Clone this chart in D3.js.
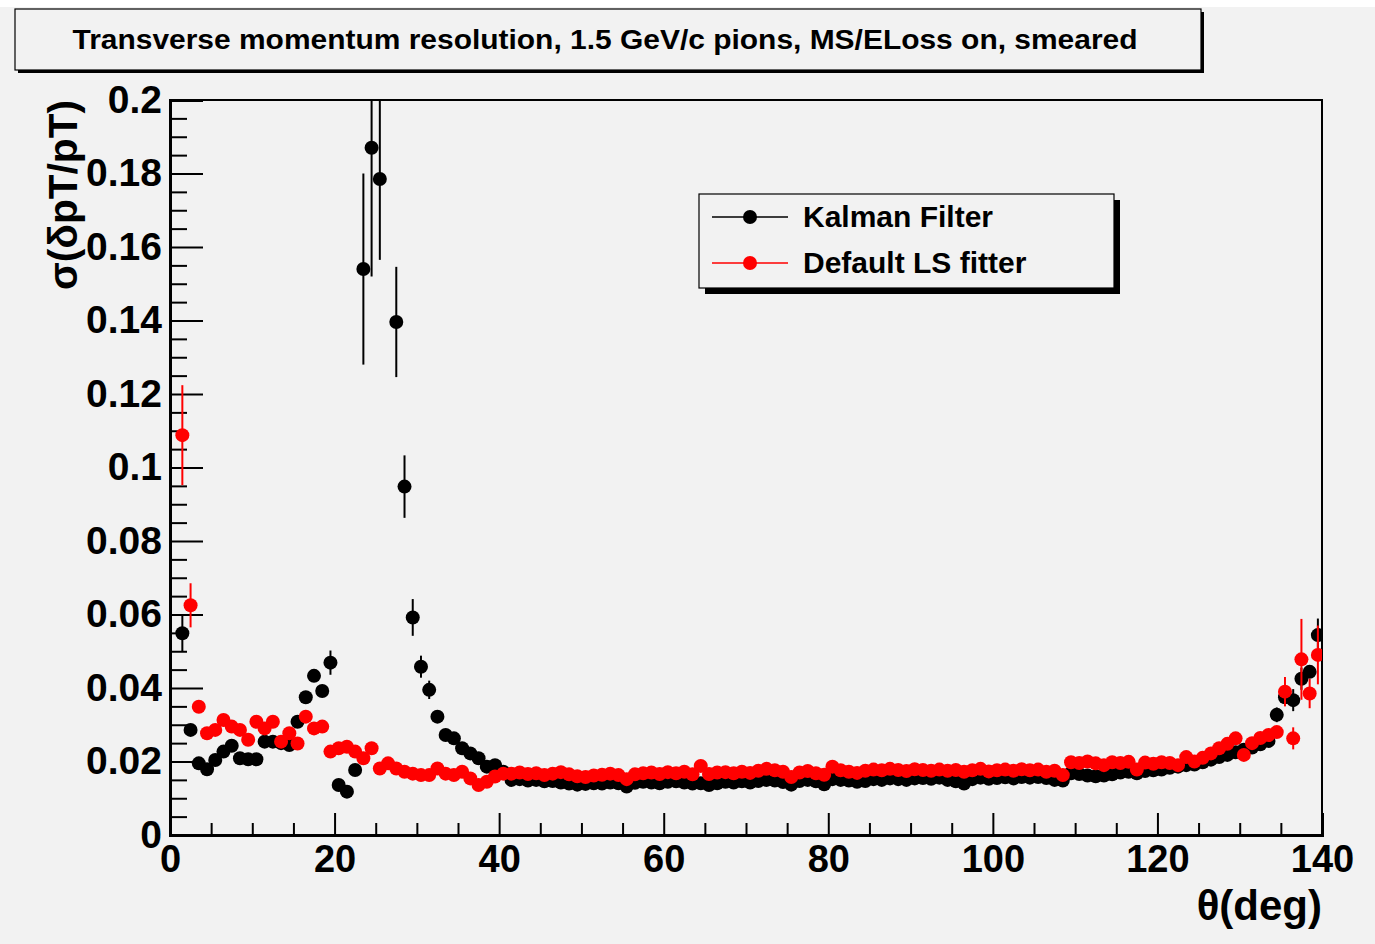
<!DOCTYPE html>
<html><head><meta charset="utf-8">
<script src="https://cdn.jsdelivr.net/npm/d3@7"></script>
<style>html,body{margin:0;padding:0;background:#fff;}svg{display:block;}</style>
</head><body>
<script>
// ---------- data ----------
const thetaCenters = d3.range(1.5, 140, 1); // bin centres 1.5 ... 139.5 (deg)
const kalmanValues = [
0.0549,0.0286,0.0195,0.0179,0.0204,0.0227,0.0243,0.0209,0.0206,0.0206,
0.0254,0.0254,0.0250,0.0245,0.0308,0.0375,0.0433,0.0392,0.0469,0.0136,
0.0118,0.0177,0.1540,0.1870,0.1785,null,0.1396,0.0948,0.0592,0.0458,
0.0395,0.0322,0.0272,0.0263,0.0236,0.0222,0.0209,0.0186,0.0190,0.0172,
0.0150,0.0152,0.0148,0.0150,0.0146,0.0147,0.0143,0.0140,0.0137,0.0139,
0.0141,0.0140,0.0143,0.0141,0.0132,0.0142,0.0145,0.0143,0.0141,0.0145,
0.0146,0.0143,0.0140,0.0141,0.0136,0.0141,0.0145,0.0143,0.0146,0.0143,
0.0147,0.0150,0.0148,0.0144,0.0137,0.0147,0.0150,0.0146,0.0138,0.0152,
0.0150,0.0148,0.0145,0.0147,0.0152,0.0150,0.0154,0.0152,0.0150,0.0154,
0.0155,0.0153,0.0156,0.0150,0.0146,0.0140,0.0152,0.0156,0.0153,0.0155,
0.0157,0.0154,0.0158,0.0156,0.0158,0.0155,0.0150,0.0148,0.0168,0.0166,
0.0162,0.0160,0.0162,0.0165,0.0170,0.0172,0.0168,0.0174,0.0176,0.0178,
0.0183,0.0186,0.0190,0.0192,0.0198,0.0205,0.0212,0.0218,0.0225,0.0232,
0.0238,0.0247,0.0256,0.0327,0.0375,0.0367,0.0425,0.0444,0.0544];
const lsValues = [
0.1088,0.0625,0.0349,0.0277,0.0286,0.0313,0.0295,0.0286,0.0259,0.0308,
0.0290,0.0308,0.0254,0.0277,0.0249,0.0322,0.0290,0.0295,0.0227,0.0236,
0.0240,0.0227,0.0209,0.0236,0.0181,0.0195,0.0181,0.0172,0.0167,0.0163,
0.0163,0.0181,0.0167,0.0163,0.0172,0.0154,0.0136,0.0145,0.0159,0.0167,
0.0167,0.0170,0.0166,0.0168,0.0163,0.0167,0.0171,0.0165,0.0160,0.0158,
0.0162,0.0164,0.0167,0.0163,0.0152,0.0165,0.0168,0.0170,0.0166,0.0171,
0.0168,0.0172,0.0165,0.0188,0.0166,0.0170,0.0171,0.0168,0.0172,0.0169,
0.0175,0.0180,0.0176,0.0172,0.0158,0.0170,0.0174,0.0168,0.0164,0.0186,
0.0176,0.0172,0.0169,0.0175,0.0178,0.0176,0.0180,0.0177,0.0174,0.0179,
0.0177,0.0175,0.0178,0.0175,0.0177,0.0172,0.0176,0.0180,0.0173,0.0176,
0.0178,0.0175,0.0179,0.0176,0.0178,0.0172,0.0175,0.0163,0.0198,0.0196,
0.0200,0.0195,0.0190,0.0198,0.0196,0.0199,0.0178,0.0197,0.0194,0.0198,
0.0196,0.0190,0.0212,0.0200,0.0210,0.0222,0.0236,0.0248,0.0263,0.0218,
0.0250,0.0264,0.0272,0.0280,0.0390,0.0263,0.0478,0.0385,0.0490];
// visible error bars: [theta, half-length]
const kalmanErrors = [[1.5,0.005],[19.5,0.0033],[23.5,0.026],[24.5,0.035],[25.5,0.022],[27.5,0.015],[28.5,0.0085],[29.5,0.005],[30.5,0.003],[31.5,0.0025],[134.5,0.002],[136.5,0.003],[137.5,0.003],[139.5,0.0045]];
const lsErrors = [[1.5,0.0136],[2.5,0.006],[135.5,0.004],[136.5,0.003],[137.5,0.011],[138.5,0.004],[139.5,0.008]];
const yMajorTicks = [0,0.02,0.04,0.06,0.08,0.1,0.12,0.14,0.16,0.18,0.2];
const yTickLabels = ["0","0.02","0.04","0.06","0.08","0.1","0.12","0.14","0.16","0.18","0.2"];
const xMajorTicks = [0,20,40,60,80,100,120,140];
const xTickLabels = ["0","20","40","60","80","100","120","140"];
const seriesNames = ["Kalman Filter","Default LS fitter"];
const titleText = "Transverse momentum resolution, 1.5 GeV/c pions, MS/ELoss on, smeared";

// ---------- layout ----------
const W = 1375, H = 944;
const L = 170, R = 1322, T = 100, B = 835;
const FONT = "'Liberation Sans', Arial, Helvetica, sans-serif";
const BG = "#f2f2f2";
const MR = 7;

const svg = d3.select("body").append("svg").attr("width", W).attr("height", H);
svg.append("rect").attr("x",0).attr("y",7).attr("width",W).attr("height",H-7).attr("fill",BG);

const x = d3.scaleLinear().domain([0,140]).range([L,R]);
const y = d3.scaleLinear().domain([0,0.2]).range([B,T]);

// title box with shadow
const tb = {x:15, y:9, w:1186, h:61};
svg.append("rect").attr("x",tb.x+3).attr("y",tb.y+3).attr("width",tb.w).attr("height",tb.h).attr("fill","#000");
svg.append("rect").attr("x",tb.x).attr("y",tb.y).attr("width",tb.w).attr("height",tb.h).attr("fill",BG).attr("stroke","#000").attr("stroke-width",1.2);
svg.append("text").attr("x",605).attr("y",49).attr("text-anchor","middle")
  .attr("font-family",FONT).attr("font-weight","bold").attr("font-size",27)
  .attr("textLength",1065).attr("lengthAdjust","spacingAndGlyphs")
  .text(titleText);

// frame
svg.append("rect").attr("x",L).attr("y",T).attr("width",R-L).attr("height",B-T)
  .attr("fill","none").attr("stroke","#000").attr("stroke-width",2);

// y axis
const yMinor = d3.range(0, 0.2001, 0.005).filter(v => Math.abs(v/0.02 - Math.round(v/0.02)) > 1e-6);
const yAxis = svg.append("g").attr("transform",`translate(${L},0)`)
  .call(d3.axisLeft(y).tickValues(yMajorTicks).tickSize(-33).tickPadding(8)
    .tickFormat((d,i)=>yTickLabels[i]));
yAxis.select(".domain").attr("stroke-width",3);
yAxis.selectAll(".tick line").attr("stroke-width",2);
yAxis.selectAll("text").attr("font-family",FONT).attr("font-weight","bold").attr("font-size",39).attr("fill","#000");
const yAxisMinor = svg.append("g").attr("transform",`translate(${L},0)`)
  .call(d3.axisLeft(y).tickValues(yMinor).tickSize(-17).tickFormat(""));
yAxisMinor.select(".domain").remove();
yAxisMinor.selectAll(".tick line").attr("stroke-width",2);

// x axis
const xMinor = d3.range(5,140,5).filter(v => v % 20 !== 0);
const xAxis = svg.append("g").attr("transform",`translate(0,${B})`)
  .call(d3.axisBottom(x).tickValues(xMajorTicks).tickSize(-22).tickPadding(10)
    .tickFormat((d,i)=>xTickLabels[i]));
xAxis.select(".domain").attr("stroke-width",3);
xAxis.selectAll(".tick line").attr("stroke-width",2);
xAxis.selectAll("text").attr("font-family",FONT).attr("font-weight","bold").attr("font-size",38).attr("fill","#000");
const xAxisMinor = svg.append("g").attr("transform",`translate(0,${B})`)
  .call(d3.axisBottom(x).tickValues(xMinor).tickSize(-12).tickFormat(""));
xAxisMinor.select(".domain").remove();
xAxisMinor.selectAll(".tick line").attr("stroke-width",2);

// axis titles
svg.append("text").attr("x",R).attr("y",920).attr("text-anchor","end")
  .attr("font-family",FONT).attr("font-weight","bold").attr("font-size",42).text("θ(deg)");
svg.append("text").attr("transform",`translate(77,${T}) rotate(-90)`).attr("text-anchor","end")
  .attr("font-family",FONT).attr("font-weight","bold").attr("font-size",40)
  .attr("textLength",190).attr("lengthAdjust","spacingAndGlyphs").text("σ(δpT/pT)");

// data
const plot = svg.append("g");
const clip = svg.append("clipPath").attr("id","clip").append("rect")
  .attr("x",L).attr("y",T-1).attr("width",R-L).attr("height",B-T+1);
function drawSeries(values, errors, color){
  const pts = thetaCenters.map((t,i)=>({t, v: values[i]})).filter(d => d.v != null);
  const g = plot.append("g").attr("clip-path","url(#clip)");
  g.selectAll("line.err").data(errors).enter().append("line")
    .attr("x1",d=>x(d[0])).attr("x2",d=>x(d[0]))
    .attr("y1",d=>y(values[thetaCenters.indexOf(d[0])]-d[1]))
    .attr("y2",d=>y(values[thetaCenters.indexOf(d[0])]+d[1]))
    .attr("stroke",color).attr("stroke-width",2);
  g.selectAll("circle").data(pts).enter().append("circle")
    .attr("cx",d=>x(d.t)).attr("cy",d=>y(d.v)).attr("r",MR).attr("fill",color);
}
drawSeries(kalmanValues, kalmanErrors, "#000");
drawSeries(lsValues, lsErrors, "#ff0000");

// legend
const lg = {x:699, y:194, w:415, h:94};
svg.append("rect").attr("x",lg.x+6).attr("y",lg.y+6).attr("width",lg.w).attr("height",lg.h).attr("fill","#000");
svg.append("rect").attr("x",lg.x).attr("y",lg.y).attr("width",lg.w).attr("height",lg.h).attr("fill",BG).attr("stroke","#000").attr("stroke-width",1.2);
const legColors = ["#000","#ff0000"];
seriesNames.forEach((name,i)=>{
  const cy = 217 + i*46;
  svg.append("line").attr("x1",712).attr("x2",788).attr("y1",cy).attr("y2",cy).attr("stroke",legColors[i]).attr("stroke-width",1.5);
  svg.append("circle").attr("cx",750).attr("cy",cy).attr("r",MR).attr("fill",legColors[i]);
  svg.append("text").attr("x",803).attr("y",cy+10).attr("font-family",FONT).attr("font-weight","bold")
    .attr("font-size",30).text(name);
});
</script>
</body></html>
